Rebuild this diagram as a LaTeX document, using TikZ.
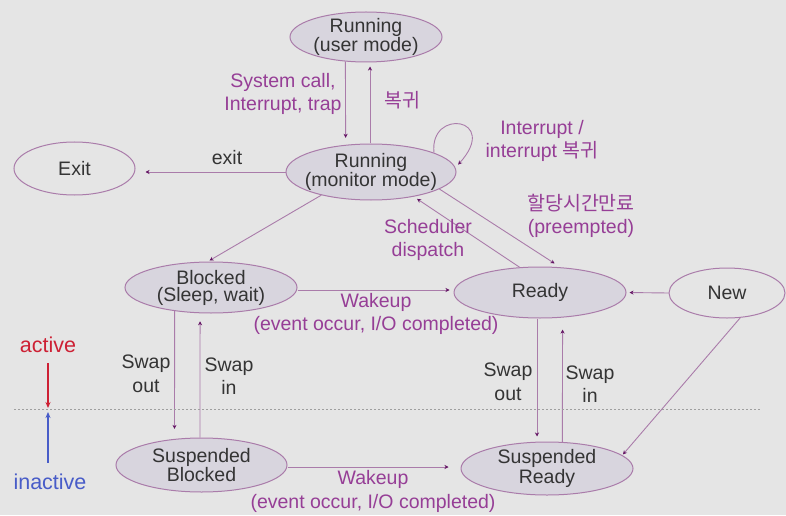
\documentclass[tikz,border=0pt]{standalone}
\usepackage{fontspec}
\setmainfont{Liberation Sans}
\newfontfamily\kr{Noto Sans CJK KR}
\usetikzlibrary{shapes.geometric,arrows.meta}
\definecolor{bgcol}{RGB}{229,229,229}
\definecolor{edgecol}{RGB}{170,124,170}
\definecolor{statefill}{RGB}{216,213,222}
\definecolor{labelcol}{RGB}{150,62,150}
\definecolor{tipcol}{RGB}{100,20,100}
\definecolor{textcol}{RGB}{52,52,52}
\definecolor{activecol}{RGB}{205,32,52}
\definecolor{inactivecol}{RGB}{72,92,200}

\tikzset{
  state/.style={ellipse, draw=edgecol, line width=1pt, fill=statefill, inner sep=-15pt,
    text=textcol, align=center, font=\fontsize{19.5}{17}\selectfont},
  openstate/.style={state, fill=none},
  conn/.style={draw=edgecol, line width=0.9pt,
    -{Stealth[length=4pt,width=4pt,color=tipcol]}, shorten >=4pt},
  lbl/.style={text=labelcol, align=center, font=\fontsize{19.5}{23.5}\selectfont},
  swaplbl/.style={lbl, text=textcol},
  sidemark/.style={line width=1.6pt, -{Stealth[length=6pt,width=5pt]}},
}

\begin{document}
\begin{tikzpicture}[x=1pt,y=1pt]
\useasboundingbox (0,0) rectangle (786,515);
\fill [bgcol] (0,0) rectangle (786,515);

% states
\node [state, minimum width=152pt, minimum height=50pt] (user) at (366,478) {Running\\(user mode)};
\node [state, minimum width=170pt, minimum height=56pt] (monitor) at (371,343) {Running\\(monitor mode)};
\node [openstate, minimum width=121pt, minimum height=53pt] (exitst) at (74.5,346.5) {Exit};
\node [state, minimum width=172pt, minimum height=51pt] (blocked) at (211,227.5) {Blocked\\(Sleep, wait)};
\node [state, minimum width=172pt, minimum height=51pt] (ready) at (540,222.5) {Ready};
\node [openstate, minimum width=116pt, minimum height=50pt] (new) at (727,222) {New};
\node [state, minimum width=171pt, minimum height=54pt] (sblocked) at (201.5,50) {Suspended\\Blocked};
\node [state, minimum width=172pt, minimum height=53pt] (sready) at (547,46.5) {Suspended\\Ready};

% user <-> monitor
\draw [conn, shorten >=7pt] (user.230) -- (monitor.133);
\draw [conn] ([xshift=-1pt]monitor.north) -- ([xshift=4pt]user.south);
\node [lbl] (syscall) at (283,421) {System call,\\Interrupt, trap};
\node [lbl] (back) at (402,415) {\kr 복귀};

% interrupt loop
\draw [conn] (monitor.17) .. controls +(-5,45) and +(45,50) .. (monitor.3);
\node [lbl] (intr) at (542,374) {Interrupt /\\interrupt {\kr 복귀}};

% exit
\draw [conn, shorten >=10pt] (monitor.west) -- (monitor.west -| exitst.east);
\node [swaplbl] (exitlbl) at (227,357) {exit};

% monitor -> blocked, ready <-> monitor
\draw [conn, shorten >=2pt] (monitor.205) -- (blocked.97);
\draw [conn] (ready.129) -- (monitor.330);
\draw [conn, shorten >=7pt] (monitor.346) -- (ready.51);
\node [lbl] (dispatch) at (428,275) {Scheduler\\dispatch};
\node [lbl] (preempt) at (581,299) {{\kr 할당시간만료}\\(preempted)};

% wakeup (active)
\draw [conn] ([yshift=-2.5pt]blocked.east) -- ([yshift=2.5pt]ready.west);
\node [lbl] (wake) at (376,201) {Wakeup\\(event occur, I/O completed)};
\draw [conn, shorten >=3pt] (new.west) -- (ready.east);

% swapping, left
\draw [conn, shorten >=10pt] (blocked.213) -- (sblocked.136);
\draw [conn, shorten >=8pt] ([xshift=-1.5pt]sblocked.north) -- (blocked.247);
\node [swaplbl] (outl) at (146,141) {Swap\\out};
\node [swaplbl] (inl) at (229,139) {Swap\\in};

% swapping, right
\draw [conn, shorten >=5pt] ([xshift=-3pt]ready.south) -- ([xshift=-10pt]sready.north);
\draw [conn, shorten >=12pt] (sready.60) -- (ready.312);
\node [swaplbl] (outr) at (508,133) {Swap\\out};
\node [swaplbl] (inr) at (590,131) {Swap\\in};

% wakeup (inactive), new -> suspended ready
\draw [conn, shorten >=12pt] ([yshift=-2pt]sblocked.east) -- ([yshift=1.5pt]sready.west);
\node [lbl] (swake) at (373,23.5) {Wakeup\\(event occur, I/O completed)};
\draw [conn, shorten >=1pt] (new.298) -- (sready.10);

% active / inactive border
\coordinate (dl) at (14,106);
\coordinate (dr) at (760,106);
\draw [gray!75, line width=1pt, dash pattern=on 2pt off 2pt] (dl) -- (dr);
\coordinate (dmid) at (48,106);
\node [text=activecol, font=\fontsize{21.5}{21.5}\selectfont] (active) at (48,170) {active};
\node [text=inactivecol, font=\fontsize{21.5}{21.5}\selectfont] (inactive) at (50,33) {inactive};
\draw [sidemark, activecol, shorten <=7pt, shorten >=1pt] (active.south -| dmid) -- (dmid);
\draw [sidemark, inactivecol, shorten <=8pt, shorten >=3pt] (inactive.north -| dmid) -- (dmid);
\end{tikzpicture}
\end{document}
